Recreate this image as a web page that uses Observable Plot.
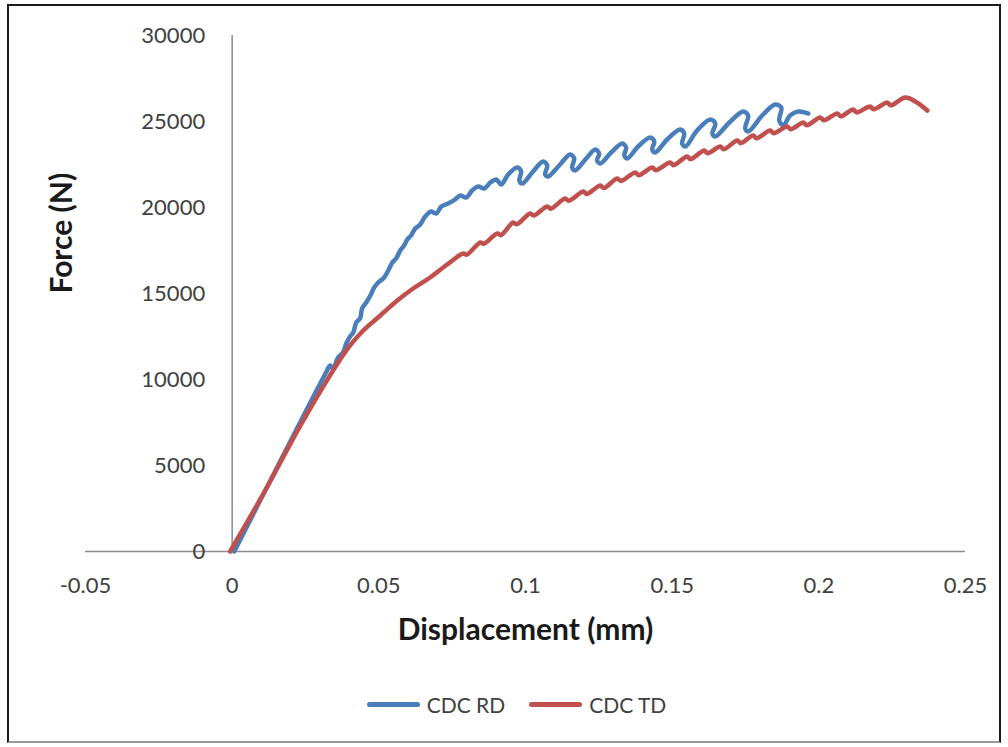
<!DOCTYPE html>
<html>
<head>
<meta charset="utf-8">
<script src="https://cdn.jsdelivr.net/npm/d3@7"></script>
<script src="https://cdn.jsdelivr.net/npm/@observablehq/plot@0.6"></script>
<style>
  html, body { margin: 0; padding: 0; background: #fff; }
  #frame { position: absolute; left: 7px; top: 4px; width: 994px; height: 739px; border: 2px solid #1a1a1a; border-bottom-color: #999; box-sizing: border-box; }
  #chart { position: absolute; left: 0; top: 0; }
  #legend { position: absolute; left: 0; top: 692px; width: 1033px; display: flex; justify-content: center; align-items: center; font-family: Lato, "Open Sans", sans-serif; font-size: 21px; color: #404040; }
  .item { display: flex; align-items: center; margin: 0 12px; }
  .swatch { width: 53px; height: 5px; border-radius: 3px; margin-right: 7px; }
</style>
</head>
<body>
<div id="frame"></div>
<div id="chart"></div>
<div id="legend"></div>
<script>
// Series names
const seriesNames = ["CDC RD", "CDC TD"];
const seriesColors = ["#4A7EBB", "#C0504D"];

// CDC RD: displacement (mm) and force (N)
const rdX = [0.0007, 0.0320, 0.0334, 0.0344, 0.0361, 0.0378, 0.0389, 0.0402, 0.0413, 0.0423, 0.0436, 0.0443, 0.0457, 0.0471, 0.0484, 0.0498, 0.0518, 0.0532, 0.0546, 0.0559, 0.0573, 0.0586, 0.0597, 0.0610, 0.0624, 0.0641, 0.0658, 0.0678, 0.0696, 0.0713, 0.0736, 0.0760, 0.0777, 0.0798, 0.0818, 0.0839, 0.0859, 0.0880, 0.0900, 0.0917, 0.0941,
  0.0972, 0.0985, 0.0979, 0.0989, 0.1023,
  0.1060, 0.1074, 0.1067, 0.1077, 0.1115,
  0.1152, 0.1166, 0.1159, 0.1169, 0.1204,
  0.1238, 0.1251, 0.1244, 0.1255, 0.1292,
  0.1330, 0.1343, 0.1337, 0.1347, 0.1384,
  0.1425, 0.1439, 0.1432, 0.1442, 0.1483,
  0.1527, 0.1541, 0.1534, 0.1545, 0.1585,
  0.1630, 0.1647, 0.1637, 0.1647, 0.1695,
  0.1742, 0.1759, 0.1749, 0.1759, 0.1810,
  0.1851, 0.1872, 0.1865, 0.1879, 0.1902, 0.1930, 0.1964];
const rdY = [0, 10407, 10814, 10640, 11279, 11570, 12093, 12500, 12733, 13314, 13547, 14128, 14477, 14884, 15349, 15640, 15930, 16337, 16802, 17035, 17500, 17791, 18140, 18372, 18779, 19012, 19477, 19768, 19651, 20058, 20233, 20465, 20698, 20581, 20988, 21221, 21105, 21454, 21628, 21337, 21919,
  22326, 22093, 21570, 21396, 22035,
  22675, 22442, 21919, 21803, 22442,
  23082, 22849, 22326, 22151, 22791,
  23372, 23140, 22733, 22558, 23198,
  23721, 23489, 23023, 22849, 23547,
  24070, 23837, 23372, 23198, 23954,
  24535, 24303, 23721, 23547, 24477,
  25116, 24884, 24303, 24128, 24942,
  25582, 25349, 24593, 24419, 25407,
  25989, 25814, 25058, 24768, 25349, 25582, 25465];

// CDC TD: displacement (mm) and force (N)
const tdX = [-0.0007, 0.0113, 0.0232, 0.0344, 0.0402, 0.0447, 0.0505, 0.0563, 0.0617, 0.0675, 0.0733, 0.0788, 0.0800, 0.0846, 0.0858,
  0.0904, 0.0916, 0.0958, 0.0970, 0.1016, 0.1028, 0.1074, 0.1086, 0.1135, 0.1147, 0.1197, 0.1209,
  0.1255, 0.1267, 0.1313, 0.1325, 0.1374, 0.1386, 0.1432, 0.1444, 0.1493, 0.1505, 0.1551, 0.1563,
  0.1609, 0.1621, 0.1664, 0.1676, 0.1722, 0.1734, 0.1776, 0.1788, 0.1834, 0.1846, 0.1892, 0.1904,
  0.1947, 0.1959, 0.2005, 0.2017, 0.2063, 0.2075, 0.2117, 0.2129, 0.2175, 0.2187, 0.2233, 0.2245,
  0.2295, 0.2329, 0.2370];
const tdY = [0, 3560, 7300, 10523, 11977, 12849, 13721, 14593, 15291, 15930, 16686, 17326, 17260, 17965, 17890,
  18489, 18390, 19128, 19020, 19651, 19530, 20058, 19930, 20523, 20390, 20930, 20790,
  21279, 21130, 21686, 21540, 22035, 21880, 22326, 22170, 22616, 22460, 22965, 22810,
  23314, 23160, 23547, 23390, 23895, 23740, 24186, 24030, 24477, 24320, 24709, 24550,
  24942, 24780, 25233, 25070, 25465, 25300, 25698, 25530, 25872, 25710, 26105, 25940,
  26396, 26163, 25640];

// Tick values
const xTicks = [-0.05, 0, 0.05, 0.1, 0.15, 0.2, 0.25];
const yTicks = [0, 5000, 10000, 15000, 20000, 25000, 30000];

const rd = rdX.map((x, i) => ({x, y: rdY[i]}));
const td = tdX.map((x, i) => ({x, y: tdY[i]}));

const font = 'Lato, "Open Sans", sans-serif';

const chart = Plot.plot({
  width: 1008,
  height: 600,
  marginLeft: 85,
  marginRight: 43,
  marginTop: 35,
  marginBottom: 49,
  style: {fontFamily: font, fontSize: "22px", color: "#404040", background: "transparent", overflow: "visible"},
  x: {domain: [-0.05, 0.25]},
  y: {domain: [0, 30000], axis: null},
  marks: [
    Plot.ruleY([0], {stroke: "#8c8c8c", strokeWidth: 1.5}),
    Plot.ruleX([0], {stroke: "#8c8c8c", strokeWidth: 1.5}),
    Plot.axisX({ticks: xTicks, tickSize: 0, tickPadding: 26, tickFormat: d => String(d), label: null, fontSize: 22, fill: "#404040"}),
    Plot.text(yTicks, {x: 0, y: d => d, text: d => String(d), dx: -27, textAnchor: "end", fontSize: 22, fill: "#404040"}),
    Plot.line(rd, {x: "x", y: "y", stroke: seriesColors[0], strokeWidth: 4.5, curve: "catmull-rom", strokeLinejoin: "round", strokeLinecap: "round"}),
    Plot.line(td, {x: "x", y: "y", stroke: seriesColors[1], strokeWidth: 4.5, curve: "catmull-rom", strokeLinejoin: "round", strokeLinecap: "round"}),
    Plot.text(["Force (N)"], {frameAnchor: "left", dx: -23, rotate: -90, fontSize: 30, fontWeight: "bold", fill: "#1a1a1a"}),
    Plot.text(["Displacement (mm)"], {frameAnchor: "bottom", dy: 88, fontSize: 30, fontWeight: "bold", fill: "#1a1a1a"})
  ]
});
document.getElementById("chart").appendChild(chart);

const legend = document.getElementById("legend");
seriesNames.forEach((name, i) => {
  const item = document.createElement("div");
  item.className = "item";
  const sw = document.createElement("div");
  sw.className = "swatch";
  sw.style.background = seriesColors[i];
  const label = document.createElement("span");
  label.textContent = name;
  item.appendChild(sw);
  item.appendChild(label);
  legend.appendChild(item);
});
</script>
</body>
</html>
